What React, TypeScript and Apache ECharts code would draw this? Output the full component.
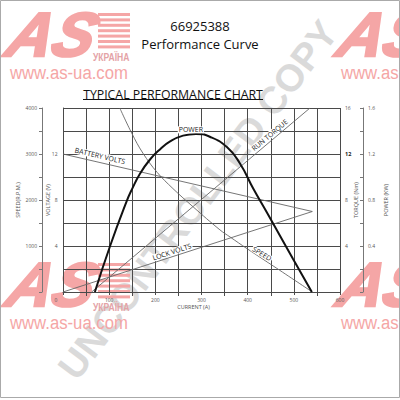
import { useEffect, useRef } from "react";
import * as echarts from "echarts";

// Motor characteristics plotted against current (A)
const powerAmps = [69, 102, 138, 149, 167, 188, 210, 232, 260, 288, 318, 355, 383, 412, 442, 470, 498, 539];
const powerKw = [0, 0.4, 0.79, 0.89, 1.03, 1.15, 1.24, 1.31, 1.36, 1.375, 1.35, 1.26, 1.12, 0.9, 0.69, 0.49, 0.29, 0];

const speedAmps = [123, 149, 173, 204, 238, 282, 340, 362, 399, 463, 540];
const speedRpm = [4000, 3450, 3020, 2600, 2250, 1850, 1350, 1195, 940, 515, 0];

const runTorqueAmps = [62, 535];
const runTorqueNm = [0, 16];

const batteryAmps = [0, 540];
const batteryVolts = [12, 7];

const lockAmps = [0, 540];
const lockVolts = [0, 7];

const zip = (xs: number[], ys: number[]) => xs.map((x, i) => [x, ys[i]]);

const FONT = '"Open Sans", sans-serif';
const GRID = "#4a4a4a";
const INK = "#555";
const THIN = "#666";
const PINK = "#f5a6a6";

const tickLabel = { fontSize: 5, color: INK, fontFamily: FONT };
const axisName = { fontSize: 5.5, color: INK, fontFamily: FONT };
const gridLine = { color: GRID, width: 1 };

const curveLabel = (text: string, rotate: number) => ({
  show: true,
  position: "inside",
  formatter: text,
  rotate,
  fontSize: 7,
  color: "#222",
  fontFamily: FONT,
  backgroundColor: "#fff",
  padding: [0, 1],
});

const marker = (coord: number[], text: string, rotate: number) => ({
  symbol: "circle",
  symbolSize: 1,
  silent: true,
  itemStyle: { color: "rgba(0,0,0,0)" },
  data: [{ coord, label: curveLabel(text, rotate) }],
});

function brandLogo(ox: number, oy: number) {
  const stripes = [0, 1, 2, 3, 4, 5, 6].map((i) => ({
    type: "rect",
    shape: { x: 98, y: 13 + i * 5.4, width: 32, height: 3 },
    style: { fill: PINK },
  }));
  return {
    type: "group",
    x: ox,
    y: oy,
    z: -10,
    silent: true,
    children: [
      ...stripes,
      {
        type: "text",
        x: 10,
        y: 35,
        skewX: -0.3,
        style: {
          text: "AS",
          fontStyle: "italic",
          fontWeight: "bold",
          fontSize: 62,
          fontFamily: "Liberation Sans",
          fill: PINK,
          stroke: PINK,
          lineWidth: 2.5,
          align: "left",
          verticalAlign: "middle",
        },
      },
      {
        type: "text",
        x: 93,
        y: 57,
        scaleX: 0.78,
        style: {
          text: "УКРАЇНА",
          fontWeight: "bold",
          fontSize: 11,
          fontFamily: "Liberation Sans",
          fill: "#e4a2a6",
          align: "left",
          verticalAlign: "middle",
        },
      },
      {
        type: "text",
        x: 10,
        y: 72.5,
        scaleX: 0.88,
        style: {
          text: "www.as-ua.com",
          fontSize: 19,
          fontFamily: "Liberation Sans",
          fill: PINK,
          align: "left",
          verticalAlign: "middle",
        },
      },
    ],
  };
}

const option = {
  animation: false,
  backgroundColor: "#fff",
  textStyle: { fontFamily: FONT },
  grid: { left: 63, right: 60, top: 108, bottom: 108 },
  xAxis: {
    type: "value",
    min: 0,
    max: 600,
    interval: 100,
    name: "CURRENT (A)",
    nameLocation: "middle",
    nameGap: 12,
    nameMoveOverlap: false,
    nameTextStyle: { ...axisName, padding: [0, 16, 0, 0] },
    axisLine: { show: true, lineStyle: gridLine },
    axisTick: { show: true, length: 3, lineStyle: gridLine },
    minorTick: { show: true, splitNumber: 2, length: 4, lineStyle: gridLine },
    splitLine: { show: true, lineStyle: gridLine },
    minorSplitLine: { show: true, lineStyle: gridLine },
    axisLabel: {
      ...tickLabel,
      margin: 5,
      formatter: (v: number) => (v === 0 ? "{z|0}" : String(v)),
      rich: { z: { ...tickLabel, padding: [0, 14, 0, 0] } },
    },
  },
  yAxis: [
    {
      // torque, on the grid's right edge
      type: "value",
      min: 0,
      max: 16,
      interval: 4,
      position: "right",
      offset: 0,
      name: "TORQUE (Nm)",
      nameLocation: "middle",
      nameRotate: 90,
      nameGap: 13,
      nameMoveOverlap: false,
      nameTextStyle: axisName,
      axisLine: { show: true, lineStyle: gridLine },
      axisTick: { show: true, length: 3, lineStyle: gridLine },
      minorTick: { show: false, splitNumber: 2 },
      splitLine: { show: true, lineStyle: gridLine },
      minorSplitLine: { show: true, lineStyle: gridLine },
      axisLabel: {
        ...tickLabel,
        margin: 5,
        formatter: (v: number) => (v === 0 ? "" : v === 12 ? "{b|12}" : String(v)),
        rich: { b: { ...tickLabel, fontSize: 5.5, fontWeight: "bold", color: "#222" } },
      },
    },
    {
      // power
      type: "value",
      min: 0,
      max: 1.6,
      interval: 0.4,
      position: "right",
      offset: 23,
      name: "POWER (KW)",
      nameLocation: "middle",
      nameRotate: 90,
      nameGap: 20,
      nameMoveOverlap: false,
      nameTextStyle: axisName,
      axisLine: { show: true, lineStyle: { color: "#777", width: 1 } },
      axisTick: { show: true, inside: true, length: 3, lineStyle: { color: "#777" } },
      minorTick: { show: true, splitNumber: 2, length: 3, lineStyle: { color: "#777" } },
      splitLine: { show: false },
      axisLabel: {
        ...tickLabel,
        margin: 5,
        formatter: (v: number) => (v === 0 ? "" : v.toFixed(1)),
      },
    },
    {
      // speed
      type: "value",
      min: 0,
      max: 4000,
      interval: 1000,
      position: "left",
      offset: 21,
      name: "SPEED(R.P.M.)",
      nameLocation: "middle",
      nameRotate: 90,
      nameGap: 21,
      nameMoveOverlap: false,
      nameTextStyle: axisName,
      axisLine: { show: true, lineStyle: { color: "#777", width: 1 } },
      axisTick: { show: true, length: 3, lineStyle: { color: "#777" } },
      minorTick: { show: true, splitNumber: 2, length: 3, lineStyle: { color: "#777" } },
      splitLine: { show: false },
      axisLabel: {
        ...tickLabel,
        margin: 5,
        formatter: (v: number) => (v === 0 ? "" : String(v)),
      },
    },
    {
      // voltage
      type: "value",
      min: 0,
      max: 16,
      interval: 4,
      position: "left",
      offset: 0,
      name: "VOLTAGE (V)",
      nameLocation: "middle",
      nameRotate: 90,
      nameGap: 12,
      nameMoveOverlap: false,
      nameTextStyle: axisName,
      axisLine: { show: false },
      axisTick: { show: false },
      splitLine: { show: false },
      axisLabel: {
        ...tickLabel,
        margin: 5.5,
        formatter: (v: number) => (v === 0 || v === 16 ? "" : String(v)),
      },
    },
  ],
  series: [
    {
      name: "RUN TORQUE",
      type: "line",
      yAxisIndex: 0,
      data: zip(runTorqueAmps, runTorqueNm),
      symbol: "none",
      lineStyle: { color: THIN, width: 0.9 },
      markPoint: marker([448, 13.65], "RUN TORQUE", 40),
    },
    {
      name: "BATTERY VOLTS",
      type: "line",
      yAxisIndex: 3,
      data: zip(batteryAmps, batteryVolts),
      symbol: "none",
      lineStyle: { color: THIN, width: 0.9 },
      markPoint: marker([80, 11.83], "BATTERY VOLTS", -13),
    },
    {
      name: "LOCK VOLTS",
      type: "line",
      yAxisIndex: 3,
      data: zip(lockAmps, lockVolts),
      symbol: "none",
      lineStyle: { color: THIN, width: 0.9 },
      markPoint: marker([236, 3.48], "LOCK VOLTS", 18),
    },
    {
      name: "SPEED",
      type: "line",
      yAxisIndex: 2,
      data: zip(speedAmps, speedRpm),
      symbol: "none",
      smooth: 0.4,
      lineStyle: { color: THIN, width: 0.9 },
      markPoint: marker([431, 830], "SPEED", -32),
    },
    {
      name: "POWER",
      type: "line",
      yAxisIndex: 1,
      data: zip(powerAmps, powerKw),
      symbol: "none",
      smooth: 0.5,
      lineStyle: { color: "#111", width: 2 },
      markPoint: marker([277, 1.41], "POWER", 0),
    },
  ],
  graphic: [
    brandLogo(0, 0),
    brandLogo(331, 0),
    brandLogo(0, 250),
    brandLogo(331, 250),
    {
      type: "text",
      x: 198,
      y: 200,
      rotation: (53 * Math.PI) / 180,
      z: -5,
      silent: true,
      style: {
        text: "UNCONTROLLED COPY",
        fontWeight: "bold",
        fontSize: 38,
        fontFamily: "Liberation Sans",
        fill: "#dadada",
        align: "center",
        verticalAlign: "middle",
      },
    },
    {
      type: "text",
      x: 200,
      y: 26,
      style: { text: "66925388", font: `13px ${FONT}`, fill: "#111", align: "center", verticalAlign: "middle" },
    },
    {
      type: "text",
      x: 200,
      y: 43.5,
      style: { text: "Performance Curve", font: `13px ${FONT}`, fill: "#111", align: "center", verticalAlign: "middle" },
    },
    {
      type: "text",
      x: 173,
      y: 94,
      style: {
        text: "TYPICAL PERFORMANCE CHART",
        font: `12.3px ${FONT}`,
        fill: "#111",
        align: "center",
        verticalAlign: "middle",
      },
    },
    {
      type: "line",
      shape: { x1: 83, y1: 99.5, x2: 263, y2: 99.5 },
      style: { stroke: "#111", lineWidth: 1 },
    },
    {
      type: "rect",
      shape: { x: 0.5, y: 0.5, width: 399, height: 397 },
      style: { fill: "none", stroke: "#aaa", lineWidth: 1 },
      silent: true,
    },
  ],
};

export default function App() {
  const ref = useRef<HTMLDivElement>(null);
  useEffect(() => {
    if (!ref.current) return;
    const chart = echarts.init(ref.current, undefined, { renderer: "svg" });
    chart.setOption(option as any);
    return () => chart.dispose();
  }, []);
  return (
    <div
      ref={ref}
      style={{ position: "fixed", left: 0, top: 0, width: 400, height: 400, background: "#fff" }}
    />
  );
}
